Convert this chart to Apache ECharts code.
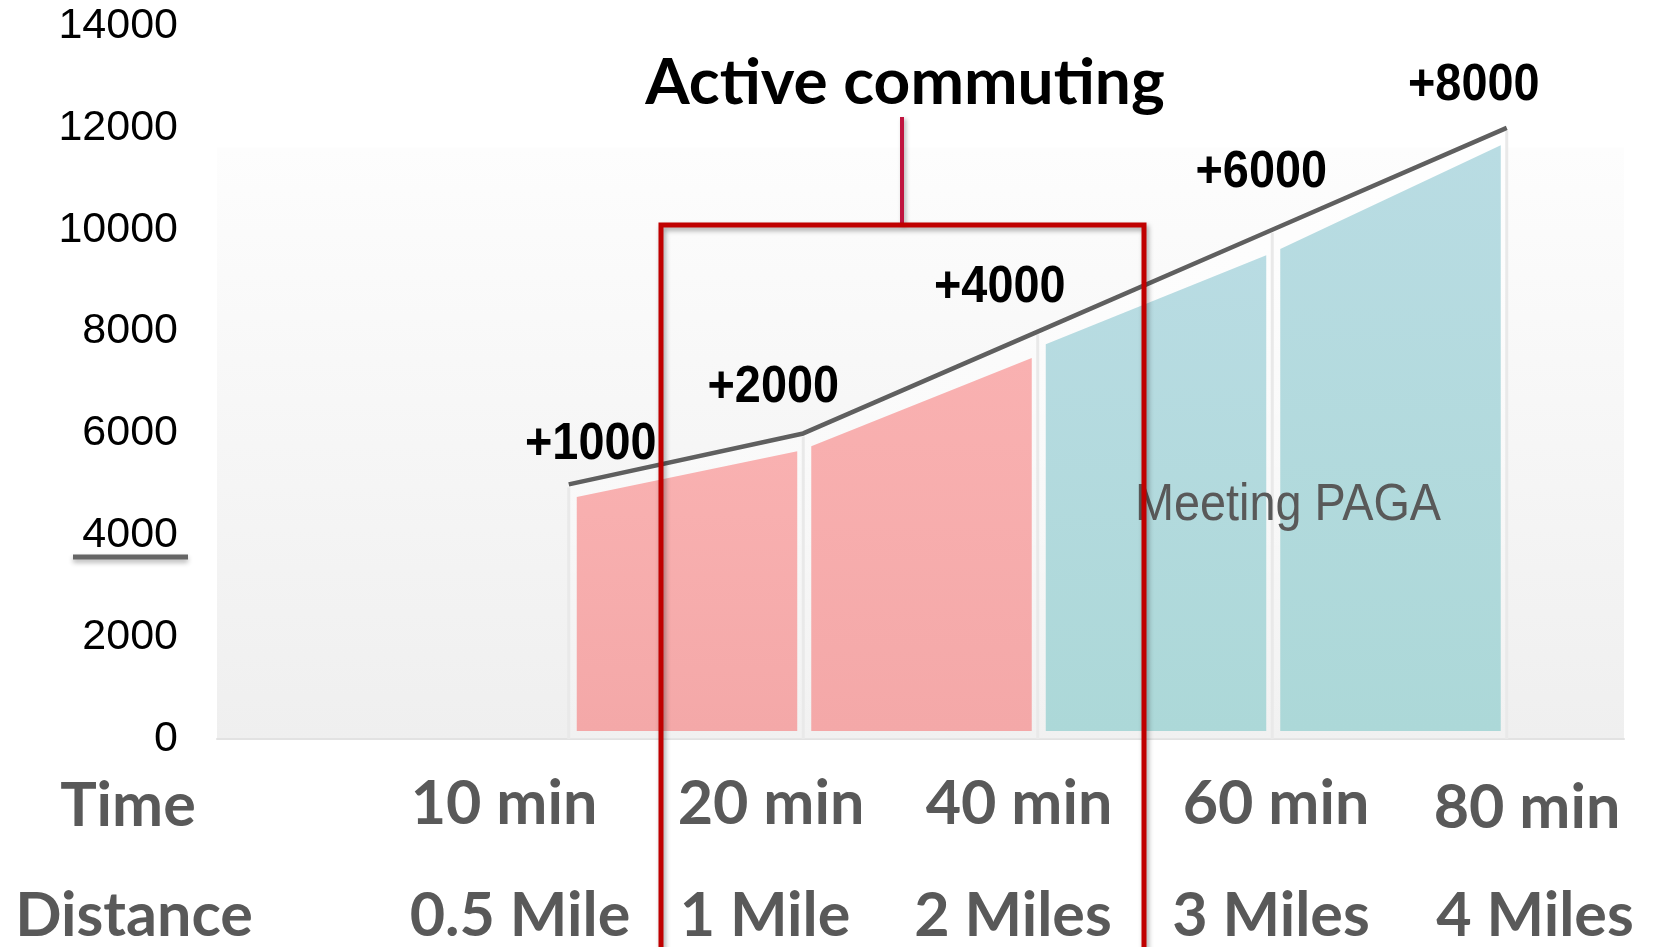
<!DOCTYPE html>
<html>
<head>
<meta charset="utf-8">
<title>Active commuting</title>
<script src="https://cdn.jsdelivr.net/npm/echarts@6/dist/echarts.min.js"></script>
<style>
  html, body { margin: 0; padding: 0; background: #ffffff; }
  #chart { width: 1653px; height: 947px; }
</style>
</head>
<body>
<div id="chart"></div>
<script>
// ---- data ----
const rowHeaders = ['Time', 'Distance'];
const timeLabels = ['10 min', '20 min', '40 min', '60 min', '80 min'];
const distanceLabels = ['0.5 Mile', '1 Mile', '2 Miles', '3 Miles', '4 Miles'];
const baseline = 4000;                       // underlined reference level
const gains = [1000, 2000, 4000, 6000, 8000]; // step increase per walking time
const fillTopStart = [4750, 5750, 7750, 9620];  // coloured band tops, left edge
const fillTopEnd = [5650, 7480, 9500, 11660];   // coloured band tops, right edge
const fillGroup = ['active', 'active', 'paga', 'paga'];
const yMax = 14000;
const yStep = 2000;

// ---- derived series ----
const categories = [''].concat(timeLabels);
const totals = [null].concat(gains.map(g => baseline + g));
const fillRows = fillTopStart.map((v, i) => [i + 1, v, fillTopEnd[i], i]);
const labelRows = gains.map((g, i) => [i + 1, baseline + g, g, i]);

// ---- layout & styles ----
const labelNudge = [[22, -40], [-30, -46], [-38, -44], [-11, -57], [-33, -42]];
const fills = {
  active: ['#f9b1b1', '#f4a8a8'],
  paga: ['#b9dce3', '#acd8d8']
};
const catFont = '"Lato", "Open Sans", sans-serif';
const numFont = '"Liberation Sans", Arial, sans-serif';
const grey = '#595959';

const chart = echarts.init(document.getElementById('chart'));

function fillItem(params, api) {
  const i = api.value(0);
  const a = api.coord([i, api.value(1)]);
  const b = api.coord([i + 1, api.value(2)]);
  const base = api.coord([i, 0])[1] - 8;
  const xl = a[0] + 8, xr = b[0] - 6;
  const c = fills[fillGroup[api.value(3)]];
  return {
    type: 'polygon',
    shape: { points: [[xl, a[1]], [xr, b[1]], [xr, base], [xl, base]] },
    style: {
      fill: new echarts.graphic.LinearGradient(0, 0, 0, 1, [
        { offset: 0, color: c[0] }, { offset: 1, color: c[1] }
      ])
    }
  };
}

function edgeItem(params, api) {
  const p = api.coord([api.value(0), api.value(1)]);
  const base = api.coord([api.value(0), 0])[1];
  return {
    type: 'line',
    shape: { x1: p[0], y1: p[1] + 3, x2: p[0], y2: base },
    style: { stroke: '#e9e9e9', lineWidth: 3 }
  };
}

function gainLabelItem(params, api) {
  const p = api.coord([api.value(0), api.value(1)]);
  const n = labelNudge[api.value(3)];
  return {
    type: 'text',
    x: p[0] + n[0],
    y: p[1] + n[1],
    scaleX: 0.9,
    style: {
      text: '+' + api.value(2),
      font: 'bold 52px ' + numFont,
      fill: '#000000',
      align: 'center',
      verticalAlign: 'middle'
    }
  };
}

const graphics = [];
// column headers and category texts
const headerX = [128, 134];
const rowY = [804, 914];
const timeX = [504, 771, 1019, 1276, 1527];
const distX = [520, 765, 1013, 1271, 1535];
rowHeaders.forEach((t, r) => {
  graphics.push({
    type: 'text', x: headerX[r], y: rowY[r] + 2,
    style: { text: t, font: 'bold 61px ' + catFont, fill: grey, align: 'center', verticalAlign: 'middle' }
  });
});
timeLabels.forEach((t, i) => {
  graphics.push({
    type: 'text', x: timeX[i], y: rowY[0] + (i === 4 ? 4 : 0),
    style: { text: t, font: 'bold 61px ' + catFont, fill: grey, align: 'center', verticalAlign: 'middle' }
  });
});
distanceLabels.forEach((t, i) => {
  graphics.push({
    type: 'text', x: distX[i], y: rowY[1] + 2,
    style: { text: t, font: 'bold 61px ' + catFont, fill: grey, align: 'center', verticalAlign: 'middle' }
  });
});
// underline of the reference level label
graphics.push({
  type: 'line', z: 50,
  shape: { x1: 73, y1: 557, x2: 188, y2: 557 },
  style: { stroke: '#666666', lineWidth: 5, shadowBlur: 5, shadowColor: 'rgba(0,0,0,0.3)', shadowOffsetY: 3 }
});
// group annotation
graphics.push({
  type: 'text', x: 905, y: 83,
  style: { text: 'Active commuting', font: 'bold 64px ' + catFont, fill: '#000000', align: 'center', verticalAlign: 'middle' }
});
graphics.push({
  type: 'line', z: 60,
  shape: { x1: 902, y1: 117, x2: 902, y2: 225 },
  style: { stroke: '#c0143f', lineWidth: 4, shadowBlur: 4, shadowColor: 'rgba(0,0,0,0.3)', shadowOffsetX: 2, shadowOffsetY: 2 }
});
graphics.push({
  type: 'polyline', z: 60,
  shape: { points: [[661, 960], [661, 225], [1144, 225], [1144, 960]] },
  style: { stroke: '#c00000', lineWidth: 5, fill: null, shadowBlur: 5, shadowColor: 'rgba(0,0,0,0.35)', shadowOffsetX: 2, shadowOffsetY: 3 }
});
graphics.push({
  type: 'text', x: 1288, y: 506, scaleX: 0.9, z: 40,
  style: { text: 'Meeting PAGA', font: '52px ' + numFont, fill: grey, align: 'center', verticalAlign: 'middle' }
});

chart.setOption({
  animation: false,
  backgroundColor: '#ffffff',
  grid: {
    left: 217, right: 29, top: 26, bottom: 208,
    show: true, borderWidth: 0,
    backgroundColor: new echarts.graphic.LinearGradient(0, 0, 0, 1, [
      { offset: 0, color: '#ffffff' },
      { offset: 0.17, color: '#ffffff' },
      { offset: 0.171, color: '#fdfdfd' },
      { offset: 1, color: '#efefef' }
    ])
  },
  xAxis: {
    type: 'category',
    data: categories,
    boundaryGap: true,
    axisLine: { show: true, lineStyle: { color: '#e2e2e2', width: 2 } },
    axisTick: { show: false },
    axisLabel: { show: false },
    splitLine: { show: false }
  },
  yAxis: {
    type: 'value',
    min: 0, max: yMax, interval: yStep,
    axisLine: { show: false },
    axisTick: { show: false },
    splitLine: { show: false },
    axisLabel: {
      color: '#000000', fontFamily: numFont, fontSize: 43, margin: 39,
      padding: [6, 0, 0, 0],
      formatter: v => String(v)
    }
  },
  series: [
    {
      name: 'plate', type: 'line', data: totals, z: 2,
      symbol: 'none', silent: true,
      lineStyle: { width: 0 },
      areaStyle: {
        color: new echarts.graphic.LinearGradient(0, 0, 0, 1, [
          { offset: 0, color: 'rgba(255,255,255,1)' },
          { offset: 1, color: 'rgba(255,255,255,0.2)' }
        ])
      }
    },
    { name: 'edges', type: 'custom', data: labelRows, renderItem: edgeItem, z: 3, silent: true },
    { name: 'fills', type: 'custom', data: fillRows, renderItem: fillItem, z: 4, silent: true },
    {
      name: 'total', type: 'line', data: totals, z: 5,
      symbol: 'none', silent: true,
      lineStyle: { color: '#5f5f5f', width: 4.5 }
    },
    { name: 'gain labels', type: 'custom', data: labelRows, renderItem: gainLabelItem, z: 6, silent: true }
  ],
  graphic: graphics
});
</script>
</body>
</html>
